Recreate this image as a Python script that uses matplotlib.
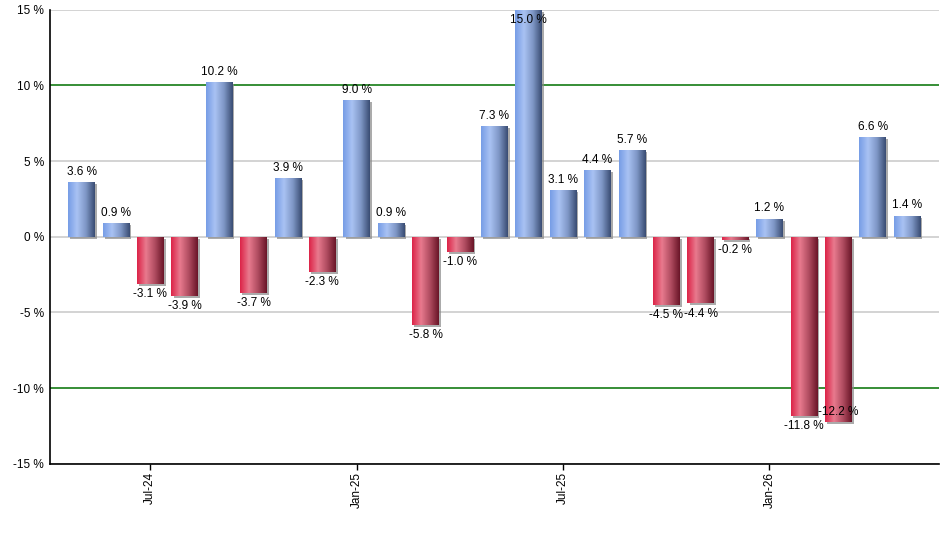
import numpy as np
import pandas as pd
import matplotlib
matplotlib.use("Agg")
import matplotlib.pyplot as plt
import matplotlib.patheffects as pe
from matplotlib.colors import LinearSegmentedColormap

plt.rcParams['font.family'] = ['Liberation Sans', 'DejaVu Sans']

months = pd.date_range("2024-05-01", "2026-05-01", freq="MS")
returns = [3.6, 0.9, -3.1, -3.9, 10.2, -3.7, 3.9, -2.3, 9.0, 0.9, -5.8, -1.0,
           7.3, 15.0, 3.1, 4.4, 5.7, -4.5, -4.4, -0.2, 1.2, -11.8, -12.2, 6.6, 1.4]
yticks = [-15, -10, -5, 0, 5, 10, 15]

blue = LinearSegmentedColormap.from_list("b", ["#779de6", "#a9c2f3", "#7f97c6", "#3a4d74"])
red = LinearSegmentedColormap.from_list("r", ["#dc2448", "#e87a8e", "#b04c60", "#6a1628"])
grad = np.linspace(0, 1, 64).reshape(1, -1)

fig = plt.figure(figsize=(9.4, 5.5), dpi=100)
ax = fig.add_axes([0.0527, 0.1564, 0.9463, 0.8263])

x = np.arange(len(returns))
ax.set_xlim(-0.93, len(returns) - 0.07)
ax.set_ylim(-15, 15)

for y in yticks:
    if abs(y) == 10:
        ax.axhline(y, color="#007000", linewidth=1.1, zorder=1)
    else:
        ax.axhline(y, color="#c8c8c8", linewidth=1.1, zorder=1)

bars = ax.bar(x, returns, width=0.77, color="white", zorder=2,
              path_effects=[pe.SimplePatchShadow(offset=(1.5, -1.5), shadow_rgbFace="#888888", alpha=0.7),
                            pe.Normal()])
for b, v in zip(bars, returns):
    x0, w = b.get_x(), b.get_width()
    im = ax.imshow(grad, cmap=blue if v >= 0 else red, aspect="auto",
                   extent=(x0, x0 + w, min(0, v), max(0, v)), zorder=3, interpolation="bilinear")
    im.set_clip_path(b)

for i, v in enumerate(returns):
    txt = f"{v:.1f} %"
    if v >= 14:
        # label would leave the plot: put it inside the bar top
        ax.annotate(txt, (i, 15), xytext=(0, -3), textcoords="offset points",
                    ha="center", va="top", fontsize=8.5, zorder=5)
    elif v >= 0:
        ax.annotate(txt, (i, v), xytext=(0, 3), textcoords="offset points",
                    ha="center", va="bottom", fontsize=8.5, zorder=5)
    elif i > 0 and returns[i - 1] < -10:
        # collides with the neighbour label, pushed up like the original
        ax.annotate(txt, (i, v), xytext=(0, 7), textcoords="offset points",
                    ha="center", va="center", fontsize=8.5, zorder=5)
    else:
        ax.annotate(txt, (i, v), xytext=(0, -3), textcoords="offset points",
                    ha="center", va="top", fontsize=8.5, zorder=5)

ax.set_yticks(yticks)
ax.set_yticklabels([f"{t} %" for t in yticks], fontsize=8.5)
tick_idx = [i for i, m in enumerate(months) if m.month in (1, 7)]
ax.set_xticks(tick_idx)
ax.set_xticklabels([months[i].strftime("%b-%y") for i in tick_idx], rotation=90, fontsize=8.5)
ax.tick_params(axis="y", length=0, pad=4)
ax.tick_params(axis="x", length=4, width=1, pad=2)

for s in ["top", "right"]:
    ax.spines[s].set_visible(False)
for s in ["left", "bottom"]:
    ax.spines[s].set_linewidth(1.2)
    ax.spines[s].set_zorder(6)

fig.savefig("out.png", dpi=100)
